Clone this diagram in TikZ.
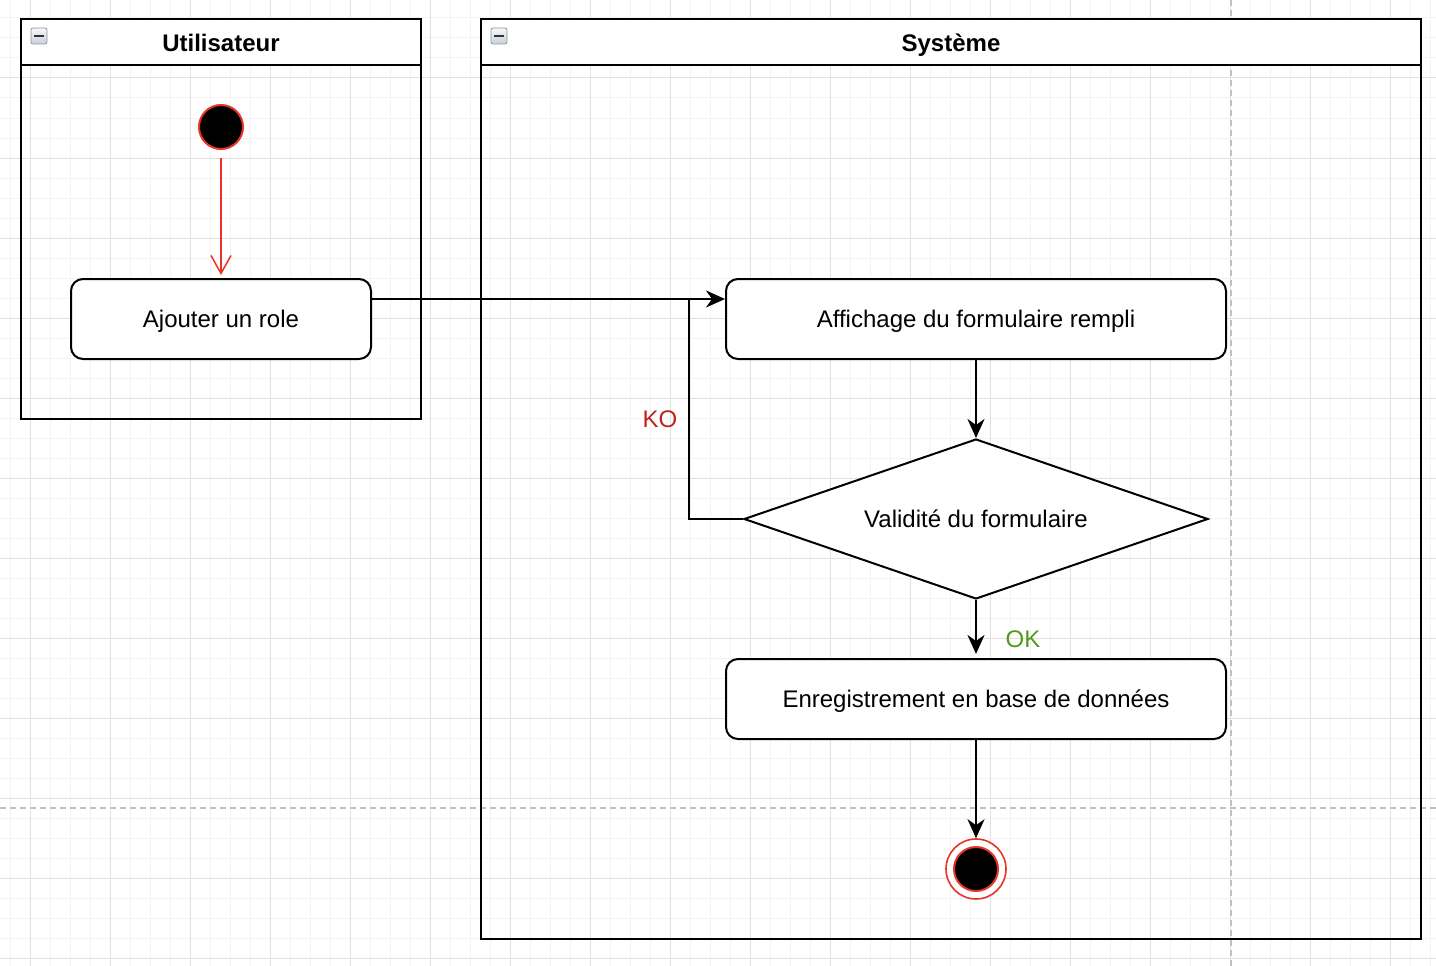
\documentclass[tikz,border=0pt]{standalone}
\usepackage{fontspec}
\setmainfont{Liberation Sans}
\usetikzlibrary{shapes.geometric,arrows.meta,calc}
\definecolor{gridminor}{RGB}{243,243,243}
\definecolor{gridmajor}{RGB}{225,225,225}
\definecolor{pagebrk}{RGB}{192,192,192}
\definecolor{umlred}{RGB}{232,52,38}
\definecolor{kored}{RGB}{196,33,28}
\definecolor{okgreen}{RGB}{77,155,30}
\definecolor{iconfill}{RGB}{200,208,218}
\definecolor{iconedge}{RGB}{140,150,164}
\tikzset{
  txt/.style={font=\fontsize{24}{28}\selectfont, text height=17.5pt, text depth=0pt},
  pool/.style={draw=black, line width=2pt},
  poolhead/.style={draw=black, line width=2pt, fill=white},
  actbox/.style={draw=black, line width=2pt, fill=white, rounded corners=12pt, inner sep=0pt, txt},
  decision/.style={diamond, draw=black, line width=2pt, fill=white, inner sep=0pt, aspect=2.9, txt},
  flow/.style={draw=black, line width=2pt, -{Stealth[length=19pt,width=17pt,inset=6pt]}},
  plain/.style={draw=black, line width=2pt},
  redflow/.style={draw=umlred, line width=1.5pt, -{Straight Barb[length=18pt,width=20pt,line width=1.5pt]}},
  initstate/.style={circle, fill=black, draw=umlred, line width=2pt, minimum size=44pt, inner sep=0pt},
  finalouter/.style={circle, fill=white, draw=umlred, line width=1.6pt, minimum size=60pt, inner sep=0pt},
  finalinner/.style={circle, fill=black, draw=umlred, line width=2pt, minimum size=44pt, inner sep=0pt},
  minusicon/.style={draw=iconedge, line width=0.8pt, top color=white!85!iconfill, bottom color=iconfill, rounded corners=2pt},
  brk/.style={draw=pagebrk, line width=1.5pt, dash pattern=on 6pt off 4pt},
}
\begin{document}
\begin{tikzpicture}[x=1pt, y=-1pt]
\useasboundingbox (0,0) rectangle (1436,966);
% background grid
\fill[white] (0,0) rectangle (1436,966);
\foreach \x in {10,30,...,1430} \draw[gridminor, line width=1pt] (\x,0) -- (\x,966);
\foreach \y in {18,38,...,958} \draw[gridminor, line width=1pt] (0,\y) -- (1436,\y);
\foreach \x in {30,110,...,1430} \draw[gridmajor, line width=1pt] (\x,0) -- (\x,966);
\foreach \y in {78,158,...,958} \draw[gridmajor, line width=1pt] (0,\y) -- (1436,\y);
% page breaks
\draw[brk] (1231,0) -- (1231,966);
\draw[brk] (0,808) -- (1436,808);
% pools
\draw[pool] (21,19) rectangle (421,419);
\draw[poolhead] (21,19) rectangle (421,65);
\node[txt, font=\fontsize{24}{28}\selectfont\bfseries] (hdrU) at (221,43) {Utilisateur};
\draw[minusicon] (31,28) rectangle (47,44);
\draw[black!80, line width=2.5pt] (34,36) -- (44,36);
\draw[pool] (481,19) rectangle (1421,939);
\draw[poolhead] (481,19) rectangle (1421,65);
\node[txt, font=\fontsize{24}{28}\selectfont\bfseries] (hdrS) at (951,43) {Système};
\draw[minusicon] (491,28) rectangle (507,44);
\draw[black!80, line width=2.5pt] (494,36) -- (504,36);
% nodes
\node[initstate] (start) at (221,127) {};
\node[actbox, minimum width=300pt, minimum height=80pt] (ajouter) at (221,319) {Ajouter un role};
\node[actbox, minimum width=500pt, minimum height=80pt] (affichage) at (976,319) {Affichage du formulaire rempli};
\node[decision, minimum width=464pt, minimum height=160pt] (valid) at (976,519) {Validité du formulaire};
\node[actbox, minimum width=500pt, minimum height=80pt] (enreg) at (976,699) {Enregistrement en base de données};
\node[finalouter] (final) at (976,869) {};
\node[finalinner] (finalc) at (976,869) {};
\coordinate (kojoin) at (689,299);
% connectors
\draw[redflow, shorten <=8pt, shorten >=3pt] (start) -- (ajouter);
\draw[flow] (ajouter.east |- kojoin) -- (affichage.west |- kojoin);
\draw[plain] (valid.west) -| (kojoin);
\draw[flow] (affichage) -- (valid.north);
\draw[flow, shorten >=4pt] (valid.south) -- (enreg.north);
\draw[flow] (enreg) -- (final);
% labels
\node[txt, text=kored] (ko) at (660,419) {KO};
\node[txt, text=okgreen] (ok) at (1023,639) {OK};
\end{tikzpicture}
\end{document}
